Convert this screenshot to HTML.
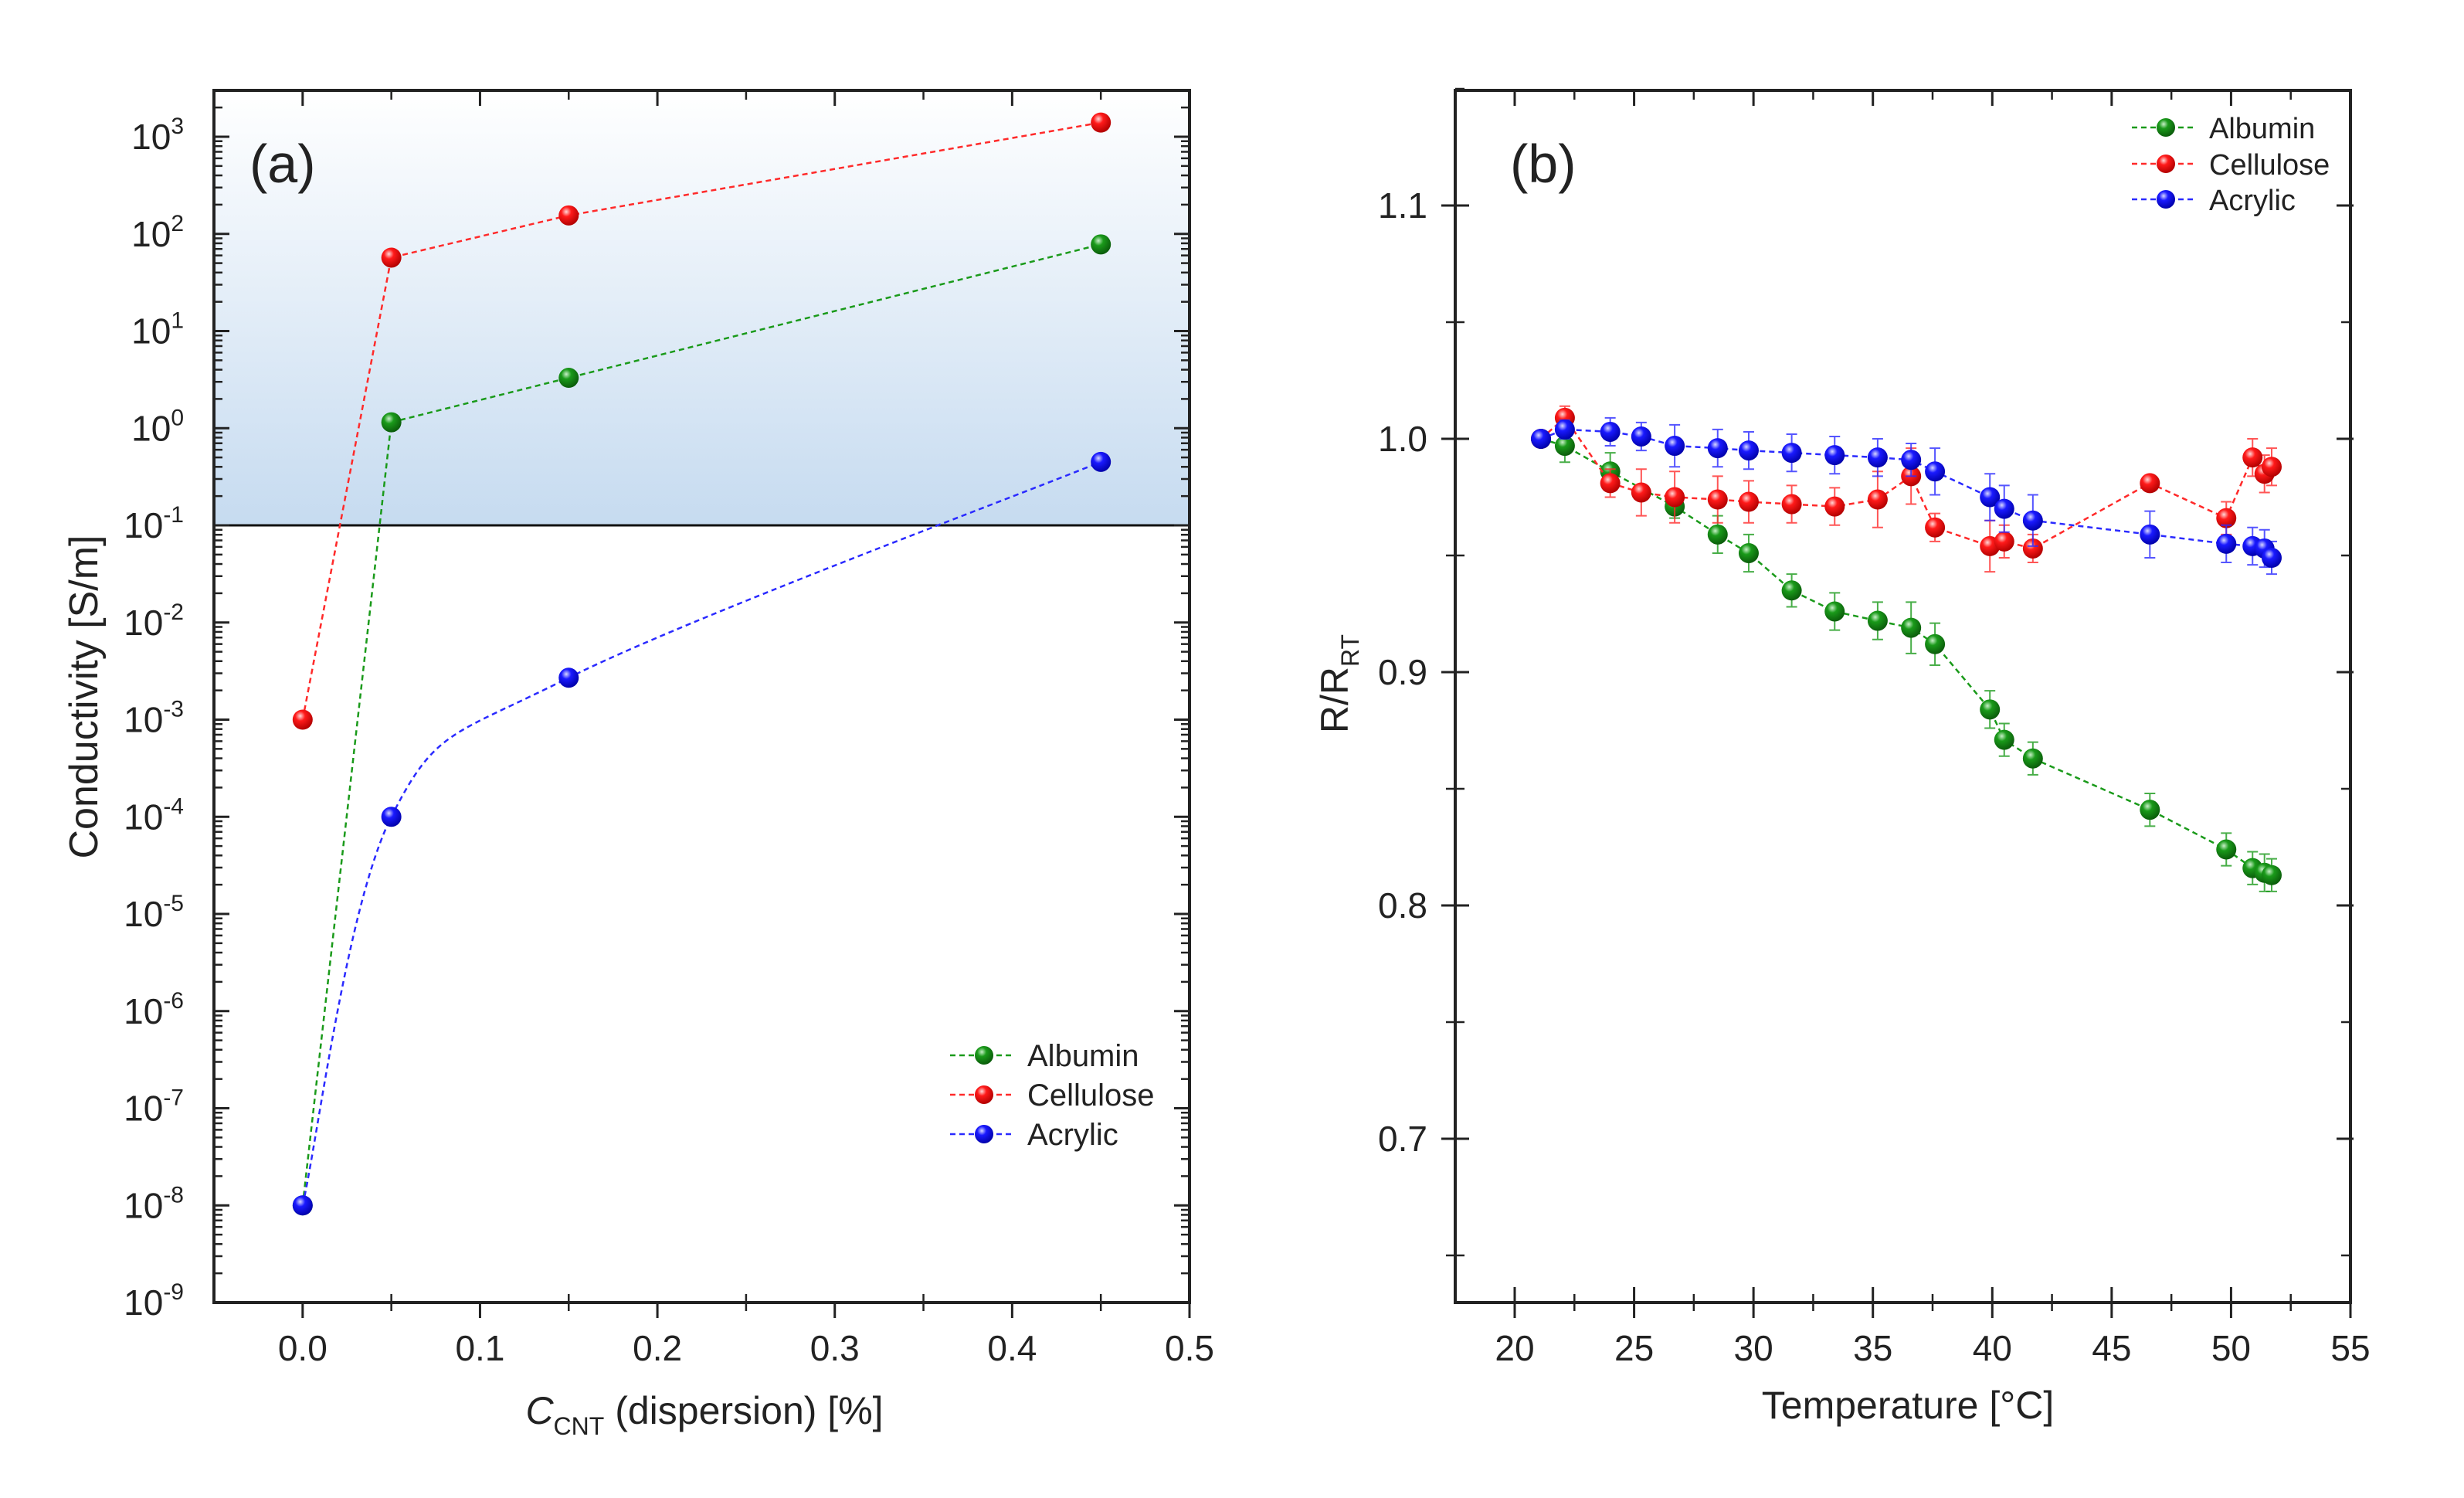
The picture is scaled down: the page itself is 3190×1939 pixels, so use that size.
<!DOCTYPE html>
<html><head><meta charset="utf-8"><style>
html,body{margin:0;padding:0;background:#fff}
svg{display:block}
text{font-family:"Liberation Sans",sans-serif;fill:#222}
</style></head><body>
<svg id="fig" width="3190" height="1939" viewBox="0 0 3190 1939" xmlns="http://www.w3.org/2000/svg">
<defs>
<linearGradient id="bluefill" x1="0" y1="0" x2="0" y2="1">
<stop offset="0" stop-color="#ffffff"/><stop offset="1" stop-color="#c6dbf0"/>
</linearGradient>
<radialGradient id="gG" cx="0.38" cy="0.32" r="0.7"><stop offset="0" stop-color="#c8f0c8"/><stop offset="0.35" stop-color="#1a9a1a"/><stop offset="1" stop-color="#0a5a0a"/></radialGradient>
<radialGradient id="gR" cx="0.38" cy="0.32" r="0.7"><stop offset="0" stop-color="#ffd8d8"/><stop offset="0.35" stop-color="#ff1a1a"/><stop offset="1" stop-color="#b00000"/></radialGradient>
<radialGradient id="gB" cx="0.38" cy="0.32" r="0.7"><stop offset="0" stop-color="#d8d8ff"/><stop offset="0.35" stop-color="#1a1aff"/><stop offset="1" stop-color="#0000a8"/></radialGradient>
</defs>
<g id="pa"></g>
<g id="pb"></g>
</svg>
<script>
// ---------- Panel (a) data ----------
const aConc = [0, 0.05, 0.15, 0.45];
const aAlbumin = [1e-8, 1.15, 3.3, 78];
const aCellulose = [1e-3, 57, 155, 1400];
const aAcrylic = [1e-8, 1e-4, 2.7e-3, 0.45];
const aXTicks = [0, 0.1, 0.2, 0.3, 0.4, 0.5];
const aXTickLabels = ["0.0","0.1","0.2","0.3","0.4","0.5"];
const aYExps = [-9,-8,-7,-6,-5,-4,-3,-2,-1,0,1,2,3];
const aThreshold = 0.1;

// ---------- Panel (b) data ----------
const bTemp = [21.1,22.1,24.0,25.3,26.7,28.5,29.8,31.6,33.4,35.2,36.6,37.6,39.9,40.5,41.7,46.6,49.8,50.9,51.4,51.7];
const bAlbTemp = [21.1,22.1,24.0,26.7,28.5,29.8,31.6,33.4,35.2,36.6,37.6,39.9,40.5,41.7,46.6,49.8,50.9,51.4,51.7];
const bAlbumin = [1.0,0.997,0.986,0.971,0.959,0.951,0.935,0.926,0.922,0.919,0.912,0.884,0.871,0.863,0.841,0.824,0.816,0.814,0.813];
const bAlbErr = [0,0.007,0.008,0.005,0.008,0.008,0.007,0.008,0.008,0.011,0.009,0.008,0.007,0.007,0.007,0.007,0.007,0.008,0.007];
const bCellulose = [1.0,1.009,0.981,0.977,0.975,0.974,0.973,0.972,0.971,0.974,0.984,0.962,0.954,0.956,0.953,0.981,0.966,0.992,0.985,0.988];
const bCelErr = [0,0.005,0.006,0.01,0.011,0.01,0.009,0.008,0.008,0.012,0.012,0.006,0.011,0.007,0.006,0.0,0.007,0.008,0.008,0.008];
const bAcrylic = [1.0,1.004,1.003,1.001,0.997,0.996,0.995,0.994,0.993,0.992,0.991,0.986,0.975,0.970,0.965,0.959,0.955,0.954,0.953,0.949];
const bAcrErr = [0,0.004,0.006,0.006,0.009,0.008,0.008,0.008,0.008,0.008,0.007,0.01,0.01,0.01,0.011,0.01,0.008,0.008,0.008,0.007];
const bXTicks = [20,25,30,35,40,45,50,55];
const bYTicks = [0.7,0.8,0.9,1.0,1.1];
const bYTickLabels = ["0.7","0.8","0.9","1.0","1.1"];

const NS = "http://www.w3.org/2000/svg";
function mk(parent, tag, attrs, text){
  const e = document.createElementNS(NS, tag);
  for (const k in attrs) e.setAttribute(k, attrs[k]);
  if (text !== undefined) e.textContent = text;
  parent.appendChild(e);
  return e;
}
const COL = {g:"#1a9a1a", r:"#ff2a2a", b:"#2a2aff"};

// ===== Panel A =====
const pa = document.getElementById('pa');
const A = {l:277, r:1540, t:117, b:1686};
function ax(v){ return A.l + (v + 0.05) / 0.55 * (A.r - A.l); }
const decade = (A.b - 177) / 12;
function ay(v){ return 177 + (3 - Math.log10(v)) * decade; }

let bg = mk(pa,'rect',{x:A.l,y:A.t,width:A.r-A.l,height:ay(aThreshold)-A.t,fill:'url(#bluefill)'});


let th = mk(pa,'line',{x1:A.l,x2:A.r,y1:ay(aThreshold),y2:ay(aThreshold),stroke:'#111','stroke-width':3});



aYExps.forEach(function(ex){
  const y = ay(Math.pow(10,ex));
  mk(pa,'line',{x1:A.l,x2:A.l+20,y1:y,y2:y,stroke:'#222','stroke-width':3});
  mk(pa,'line',{x1:A.r,x2:A.r-20,y1:y,y2:y,stroke:'#222','stroke-width':3});
  for (let m=2;m<=9;m++){
    const yy = ay(m*Math.pow(10,ex));
    if (yy < A.t) continue;
    mk(pa,'line',{x1:A.l,x2:A.l+11,y1:yy,y2:yy,stroke:'#222','stroke-width':2.5});
    mk(pa,'line',{x1:A.r,x2:A.r-11,y1:yy,y2:yy,stroke:'#222','stroke-width':2.5});
  }
  const t = mk(pa,'text',{x:238,y:y+16,'text-anchor':'end','font-size':46});
  
  
  t.textContent = '10';
  mk(t,'tspan',{dy:-20,'font-size':30},String(ex));
});
aXTicks.forEach(function(v,i){
  const x = ax(v);
  mk(pa,'line',{x1:x,x2:x,y1:A.b,y2:A.b+20,stroke:'#222','stroke-width':3});
  mk(pa,'line',{x1:x,x2:x,y1:A.t,y2:A.t+20,stroke:'#222','stroke-width':3});
  const xm = ax(v-0.05);
  if (xm > A.l+2){
    mk(pa,'line',{x1:xm,x2:xm,y1:A.b-11,y2:A.b+11,stroke:'#222','stroke-width':2.5});
    mk(pa,'line',{x1:xm,x2:xm,y1:A.t,y2:A.t+12,stroke:'#222','stroke-width':2.5});
  }
  const t = mk(pa,'text',{x:x,y:1761,'text-anchor':'middle','font-size':46},aXTickLabels[i]);
  
  
});
let fa = mk(pa,'rect',{x:A.l,y:A.t,width:A.r-A.l,height:A.b-A.t,fill:'none',stroke:'#222','stroke-width':4});



function linePath(pts){ return 'M'+pts.map(p=>p[0].toFixed(1)+','+p[1].toFixed(1)).join('L'); }
function splinePath(pts){
  let d = 'M'+pts[0][0]+','+pts[0][1];
  for (let i=0;i<pts.length-1;i++){
    const p0 = pts[Math.max(0,i-1)], p1 = pts[i], p2 = pts[i+1], p3 = pts[Math.min(pts.length-1,i+2)];
    const c1 = [p1[0]+(p2[0]-p0[0])/6, p1[1]+(p2[1]-p0[1])/6];
    const c2 = [p2[0]-(p3[0]-p1[0])/6, p2[1]-(p3[1]-p1[1])/6];
    d += 'C'+c1[0]+','+c1[1]+' '+c2[0]+','+c2[1]+' '+p2[0]+','+p2[1];
  }
  return d;
}
function seriesA(vals, col, grad, name, smooth){
  const g = mk(pa,'g',{});
  
  
  const pts = aConc.map((c,i)=>[ax(c), ay(vals[i])]);
  mk(g,'path',{d: smooth ? splinePath(pts) : linePath(pts), fill:'none', stroke:col,'stroke-width':2.5,'stroke-dasharray':'7 5'});
  pts.forEach(function(p){
    const c = mk(g,'circle',{cx:p[0],cy:p[1],r:13,fill:'url(#'+grad+')'});
    
    
  });
}
seriesA(aAlbumin, COL.g, 'gG', 'albumin', false);
seriesA(aCellulose, COL.r, 'gR', 'cellulose', false);
seriesA(aAcrylic, COL.b, 'gB', 'acrylic', true);

let la = mk(pa,'text',{x:323,y:236,'font-size':70},'(a)');


let yta = mk(pa,'text',{x:0,y:0,'font-size':52,'text-anchor':'middle',transform:'translate(126,902) rotate(-90)'},'Conductivity [S/m]');


let xta = mk(pa,'text',{x:912,y:1843,'font-size':50,'text-anchor':'middle'});


mk(xta,'tspan',{'font-style':'italic'},'C');
mk(xta,'tspan',{dy:14,'font-size':32},'CNT');
mk(xta,'tspan',{dy:-14},' (dispersion) [%]');

function legend(parent, x0, yrows, names, cols, grads, fs, key){
  names.forEach(function(n,i){
    const g = mk(parent,'g',{});
    
    
    const y = yrows[i];
    mk(g,'line',{x1:x0,x2:x0+84,y1:y,y2:y,stroke:cols[i],'stroke-width':2.5,'stroke-dasharray':'7 5'});
    mk(g,'circle',{cx:x0+44,cy:y,r:12,fill:'url(#'+grads[i]+')'});
    mk(g,'text',{x:x0+100,y:y+14,'font-size':fs},n);
  });
}
legend(pa, 1230, [1366,1417,1468], ['Albumin','Cellulose','Acrylic'], [COL.g,COL.r,COL.b], ['gG','gR','gB'], 40, 'a');

// ===== Panel B =====
const pb = document.getElementById('pb');
const B = {l:1884, r:3043, t:117, b:1686};
function bx(v){ return 1961 + (v - 20) / 35 * (B.r - 1961); }
function by(v){ return 568 - (v - 1.0) / 0.1 * 302; }

bYTicks.forEach(function(v,i){
  const y = by(v);
  mk(pb,'line',{x1:B.l-18,x2:B.l+18,y1:y,y2:y,stroke:'#222','stroke-width':3});
  mk(pb,'line',{x1:B.r-18,x2:B.r+4,y1:y,y2:y,stroke:'#222','stroke-width':3});
  const ym = by(v - 0.05);
  if (ym < B.b - 2){
    mk(pb,'line',{x1:B.l-12,x2:B.l+12,y1:ym,y2:ym,stroke:'#222','stroke-width':2.5});
    mk(pb,'line',{x1:B.r-12,x2:B.r,y1:ym,y2:ym,stroke:'#222','stroke-width':2.5});
  }
  const t = mk(pb,'text',{x:1848,y:y+16,'text-anchor':'end','font-size':46},bYTickLabels[i]);
  
  
});
{ const ym = by(1.15); mk(pb,'line',{x1:B.l,x2:B.l+12,y1:ym,y2:ym,stroke:'#222','stroke-width':2.5}); }
bXTicks.forEach(function(v){
  const x = bx(v);
  mk(pb,'line',{x1:x,x2:x,y1:B.b-20,y2:B.b+20,stroke:'#222','stroke-width':3});
  mk(pb,'line',{x1:x,x2:x,y1:B.t,y2:B.t+20,stroke:'#222','stroke-width':3});
  const xm = bx(v - 2.5);
  if (xm > B.l + 2){
    mk(pb,'line',{x1:xm,x2:xm,y1:B.b-11,y2:B.b+11,stroke:'#222','stroke-width':2.5});
    mk(pb,'line',{x1:xm,x2:xm,y1:B.t,y2:B.t+12,stroke:'#222','stroke-width':2.5});
  }
  const t = mk(pb,'text',{x:x,y:1761,'text-anchor':'middle','font-size':46},String(v));
  
  
});
let fb = mk(pb,'rect',{x:B.l,y:B.t,width:B.r-B.l,height:B.b-B.t,fill:'none',stroke:'#222','stroke-width':4});



function seriesB(xs, vals, errs, col, grad, name){
  const g = mk(pb,'g',{});
  
  
  const pts = xs.map((x,i)=>[bx(x), by(vals[i])]);
  mk(g,'path',{d:linePath(pts),fill:'none',stroke:col,'stroke-width':2.5,'stroke-dasharray':'7 5'});
  pts.forEach(function(p,i){
    if (errs[i] > 0){
      const e = mk(g,'path',{d:'M'+p[0]+','+by(vals[i]+errs[i])+'V'+by(vals[i]-errs[i])+'M'+(p[0]-7)+','+by(vals[i]+errs[i])+'h14M'+(p[0]-7)+','+by(vals[i]-errs[i])+'h14',stroke:col,'stroke-width':2,fill:'none','stroke-opacity':0.8});
      
      
    }
  });
  pts.forEach(function(p){
    const c = mk(g,'circle',{cx:p[0],cy:p[1],r:13,fill:'url(#'+grad+')'});
    
    
  });
}
seriesB(bAlbTemp, bAlbumin, bAlbErr, COL.g, 'gG', 'albumin');
seriesB(bTemp, bCellulose, bCelErr, COL.r, 'gR', 'cellulose');
seriesB(bTemp, bAcrylic, bAcrErr, COL.b, 'gB', 'acrylic');

let lb = mk(pb,'text',{x:1955,y:236,'font-size':70},'(b)');


let ytb = mk(pb,'text',{x:0,y:0,'font-size':50,'text-anchor':'middle',transform:'translate(1745,885) rotate(-90)'});


ytb.textContent = 'R/R';
mk(ytb,'tspan',{dy:14,'font-size':32},'RT');
let xtb = mk(pb,'text',{x:2470,y:1836,'font-size':50,'text-anchor':'middle'},'Temperature [°C]');


legend(pb, 2760, [165,212,258], ['Albumin','Cellulose','Acrylic'], [COL.g,COL.r,COL.b], ['gG','gR','gB'], 38, 'b');
</script>
</body></html>
